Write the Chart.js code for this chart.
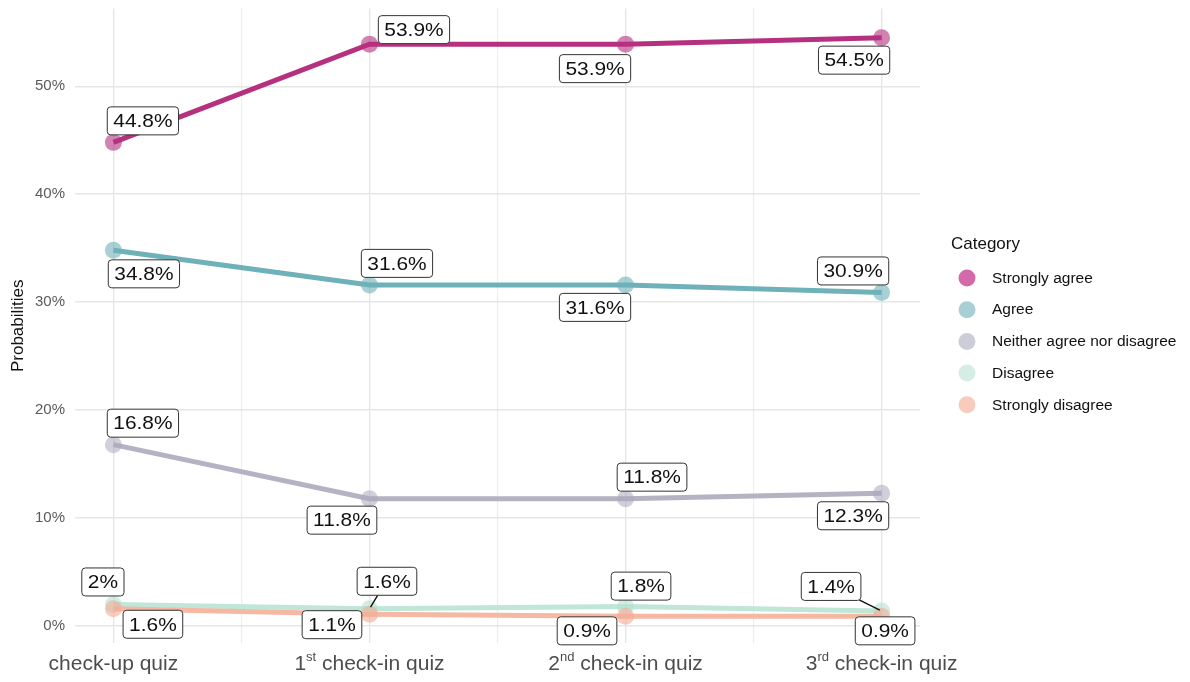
<!DOCTYPE html>
<html>
<head>
<meta charset="utf-8">
<script src="https://cdn.jsdelivr.net/npm/chart.js@4.4.1/dist/chart.umd.min.js"></script>
<style>
  html, body { margin: 0; padding: 0; background: #ffffff; }
  #wrap { width: 1190px; height: 682px; position: relative; }
</style>
</head>
<body>
<div id="wrap"><canvas id="c" width="1190" height="682"></canvas></div>
<script>
// ---------- data ----------
const categories = ['check-up quiz', '1st check-in quiz', '2nd check-in quiz', '3rd check-in quiz'];
const seriesNames = ['Strongly agree', 'Agree', 'Neither agree nor disagree', 'Disagree', 'Strongly disagree'];
const stronglyAgree = [44.8, 53.9, 53.9, 54.5];
const agree = [34.8, 31.6, 31.6, 30.9];
const neitherAgree = [16.8, 11.8, 11.8, 12.3];
const disagree = [2, 1.6, 1.8, 1.4];
const stronglyDisagree = [1.6, 1.1, 0.9, 0.9];
const yTickValues = [0, 10, 20, 30, 40, 50];
const legendTitle = 'Category';
const yAxisTitle = 'Probabilities';

// ---------- styles ----------
const seriesValues = [stronglyAgree, agree, neitherAgree, disagree, stronglyDisagree];
const lineColors = ['#b5317f', '#6fb1b9', '#b5b3c3', '#bfe6d7', '#f4b8a3'];
const pointColors = ['rgba(181,49,127,0.6)', 'rgba(111,177,185,0.6)', 'rgba(170,168,188,0.55)', 'rgba(180,225,208,0.6)', 'rgba(244,170,148,0.6)'];
const legendColors = ['#d36aa9', '#a9cfd6', '#cdccd9', '#d4eee5', '#f8cbbd'];

// label offsets (dx, dy, connector) relative to each point — label layout only
const labelLayout = [
  [[29, -22], [44, -15], [-31, 24], [-28, 22]],
  [[30, 23], [27, -22], [-31, 22], [-29, -22]],
  [[29, -22], [-28, 21], [26, -22], [-29, 22]],
  [[-11, -23], [17, -28, true], [15, -21], [-51, -25, true]],
  [[39, 15], [-38, 10], [-39, 14], [3, 14]]
];

const FONT = '"Liberation Sans", Arial, sans-serif';
const LABEL_STRETCH = 1.1;

const datasets = seriesValues.map((vals, si) => ({
  label: seriesNames[si],
  data: vals.map((v, i) => ({ x: i + 1, y: v })),
  borderColor: lineColors[si],
  backgroundColor: pointColors[si],
  borderWidth: 5,
  pointRadius: 8.5,
  pointHoverRadius: 8.5,
  pointBorderWidth: 0,
  pointBackgroundColor: pointColors[si],
  tension: 0,
  order: 4 - si
}));

function roundRect(ctx, x, y, w, h, r) {
  ctx.beginPath();
  ctx.moveTo(x + r, y);
  ctx.lineTo(x + w - r, y);
  ctx.arcTo(x + w, y, x + w, y + r, r);
  ctx.lineTo(x + w, y + h - r);
  ctx.arcTo(x + w, y + h, x + w - r, y + h, r);
  ctx.lineTo(x + r, y + h);
  ctx.arcTo(x, y + h, x, y + h - r, r);
  ctx.lineTo(x, y + r);
  ctx.arcTo(x, y, x + r, y, r);
  ctx.closePath();
}

const labelPlugin = {
  id: 'boxLabels',
  afterDatasetsDraw(chart) {
    const ctx = chart.ctx;
    ctx.save();
    ctx.font = '19px ' + FONT;
    chart.data.datasets.forEach((ds, di) => {
      const meta = chart.getDatasetMeta(di);
      meta.data.forEach((pt, i) => {
        const lay = labelLayout[di][i];
        const text = ds.data[i].y + '%';
        const tw = ctx.measureText(text).width * LABEL_STRETCH;
        const w = tw + 12, h = 28;
        const cx = pt.x + lay[0], cy = pt.y + lay[1];
        const bx = cx - w / 2, by = cy - h / 2;
        if (lay[2]) {
          const vx = cx - pt.x, vy = cy - pt.y;
          const tx = Math.abs(vx) > 0 ? (w / 2) / Math.abs(vx) : Infinity;
          const ty = Math.abs(vy) > 0 ? (h / 2) / Math.abs(vy) : Infinity;
          const t = 1 - Math.min(tx, ty);
          const ex = pt.x + vx * t, ey = pt.y + vy * t;
          const d = Math.hypot(ex - pt.x, ey - pt.y);
          ctx.beginPath();
          ctx.moveTo(pt.x + (ex - pt.x) * 2 / d, pt.y + (ey - pt.y) * 2 / d);
          ctx.lineTo(ex, ey);
          ctx.strokeStyle = '#111';
          ctx.lineWidth = 1.4;
          ctx.stroke();
        }
        roundRect(ctx, bx + 0.5, by + 0.5, w, h, 3.5);
        ctx.fillStyle = '#ffffff';
        ctx.fill();
        ctx.strokeStyle = '#333';
        ctx.lineWidth = 1;
        ctx.stroke();
        ctx.save();
        ctx.translate(cx + 0.5, cy + 1.5);
        ctx.scale(LABEL_STRETCH, 1);
        ctx.fillStyle = '#111';
        ctx.textAlign = 'center';
        ctx.textBaseline = 'middle';
        ctx.fillText(text, 0, 0);
        ctx.restore();
      });
    });
    ctx.restore();
  }
};

const decorPlugin = {
  id: 'decor',
  afterDraw(chart) {
    const ctx = chart.ctx;
    const xs = chart.scales.x;
    ctx.save();
    ctx.fillStyle = '#4d4d4d';
    ctx.textBaseline = 'alphabetic';
    categories.forEach((cat, i) => {
      const px = xs.getPixelForValue(i + 1);
      const base = 670;
      const m = cat.match(/^(\d+)(st|nd|rd|th)(\s.*)$/);
      if (m) {
        ctx.font = '21px ' + FONT;
        const w1 = ctx.measureText(m[1]).width;
        const w3 = ctx.measureText(m[3]).width;
        ctx.font = '13px ' + FONT;
        const w2 = ctx.measureText(m[2]).width;
        let x = px - (w1 + w2 + w3) / 2;
        ctx.textAlign = 'left';
        ctx.font = '21px ' + FONT;
        ctx.fillText(m[1], x, base);
        x += w1;
        ctx.font = '13px ' + FONT;
        ctx.fillText(m[2], x, base - 9);
        x += w2;
        ctx.font = '21px ' + FONT;
        ctx.fillText(m[3], x, base);
      } else {
        ctx.font = '21px ' + FONT;
        ctx.textAlign = 'center';
        ctx.fillText(cat, px, base);
      }
    });
    ctx.textAlign = 'left';
    ctx.textBaseline = 'middle';
    ctx.fillStyle = '#111';
    ctx.font = '17px ' + FONT;
    ctx.fillText(legendTitle, 951, 244);
    seriesNames.forEach((name, i) => {
      const y = 278 + i * 31.7;
      ctx.beginPath();
      ctx.arc(967, y, 8.5, 0, Math.PI * 2);
      ctx.fillStyle = legendColors[i];
      ctx.fill();
      ctx.fillStyle = '#111';
      ctx.font = '15.5px ' + FONT;
      ctx.fillText(name, 992, y + 0.5);
    });
    ctx.restore();
  }
};

new Chart(document.getElementById('c'), {
  type: 'line',
  data: { datasets },
  plugins: [labelPlugin, decorPlugin],
  options: {
    responsive: false,
    animation: false,
    events: [],
    layout: { padding: { top: 8, right: 270, bottom: 39, left: 0 } },
    plugins: { legend: { display: false }, tooltip: { enabled: false } },
    scales: {
      x: {
        type: 'linear',
        min: 0.85,
        max: 4.15,
        afterBuildTicks(scale) {
          const t = [];
          for (let v = 1; v <= categories.length; v += 0.5) t.push({ value: v });
          scale.ticks = t;
        },
        afterFit(scale) { scale.paddingLeft = 0; scale.paddingRight = 0; },
        ticks: { display: false },
        border: { display: false },
        grid: {
          drawTicks: false,
          color: (c) => (c.tick && Number.isInteger(c.tick.value)) ? '#e6e6e6' : '#eeeeee',
          lineWidth: (c) => (c.tick && Number.isInteger(c.tick.value)) ? 1.4 : 1.2
        }
      },
      y: {
        type: 'linear',
        min: -1.57,
        max: 57.2,
        afterBuildTicks(scale) {
          scale.ticks = yTickValues.map(v => ({ value: v }));
        },
        afterFit(scale) { scale.width = 75; scale.paddingTop = 0; scale.paddingBottom = 0; },
        ticks: {
          padding: 10,
          color: '#5a5a5a',
          font: { family: FONT, size: 15 },
          callback: (v) => v + '%'
        },
        border: { display: false },
        grid: { drawTicks: false, color: '#e6e6e6', lineWidth: 1.4 },
        title: {
          display: true,
          text: yAxisTitle,
          color: '#111',
          font: { family: FONT, size: 17 },
          padding: { top: 8, bottom: 0 }
        }
      }
    }
  }
});
</script>
</body>
</html>
